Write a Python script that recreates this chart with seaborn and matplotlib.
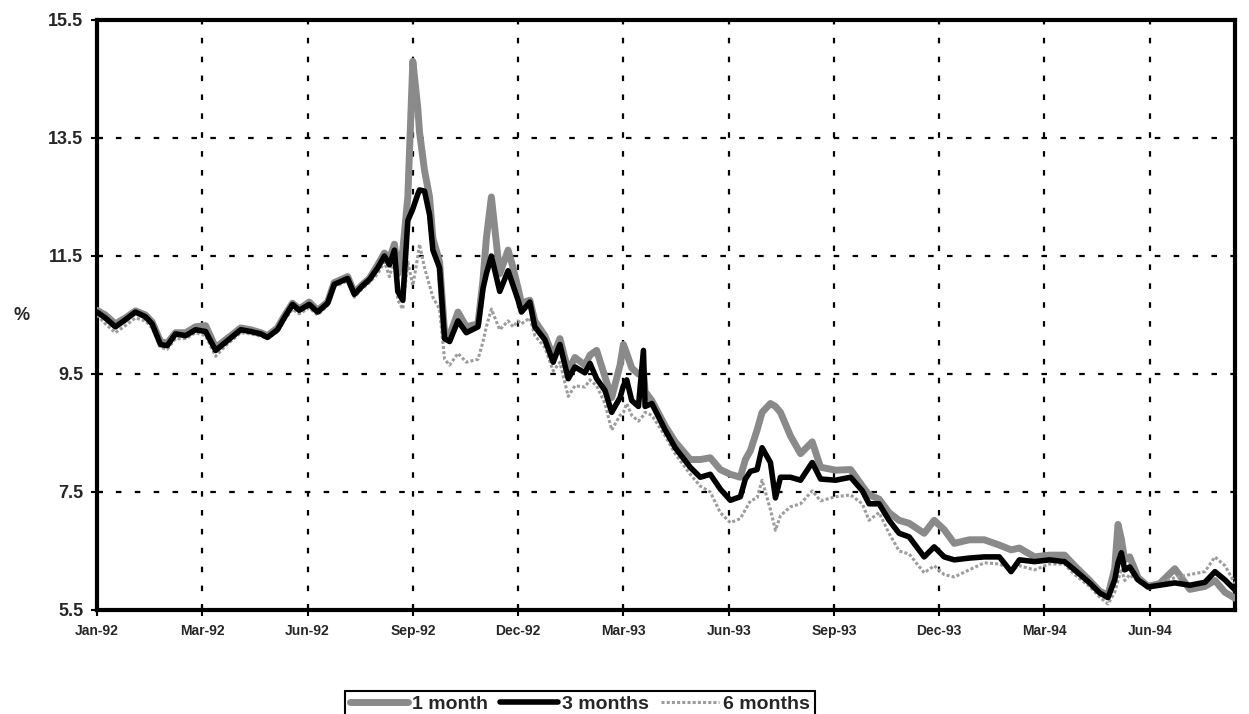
import matplotlib
matplotlib.use("Agg")
import matplotlib.pyplot as plt
import seaborn as sns
import pandas as pd
import numpy as np

# business-day index (63 business days between labelled ticks)
days = [0, 5, 11, 17, 23, 29, 33, 38, 42, 47, 53, 59, 65, 71, 77, 86, 92, 98, 102, 108,
        112, 117, 121, 127, 132, 138, 142, 150, 154, 159, 163, 168, 172, 175, 178, 180, 183,
        186, 189, 192, 193, 196, 199, 201, 205, 208, 211, 216, 221, 228, 231, 233, 236, 241,
        246, 249, 252, 254, 259, 262, 268, 273, 277, 282, 286, 292, 295, 299, 304, 308, 313,
        315, 317, 320, 324, 327, 328, 332, 340, 346, 355, 361, 367, 373, 379, 385, 388, 391,
        395, 398, 403, 406, 409, 415, 421, 428, 433, 442, 451, 458, 462, 468, 474, 480, 486,
        495, 501, 507, 513, 522, 531, 540, 547, 552, 561, 570, 579, 585, 594, 600, 605, 609,
        611, 613, 615, 618, 623, 629, 636, 645, 654, 663, 669, 675, 681]

three_months = [10.55, 10.45, 10.30, 10.42, 10.55, 10.47, 10.35, 10.00, 9.98, 10.18, 10.15, 10.25,
                10.22, 9.90, 10.04, 10.25, 10.22, 10.18, 10.12, 10.25, 10.45, 10.68, 10.58, 10.68,
                10.55, 10.70, 11.02, 11.12, 10.85, 11.00, 11.10, 11.30, 11.50, 11.35, 11.60, 10.90,
                10.75, 12.10, 12.30, 12.55, 12.62, 12.60, 12.20, 11.60, 11.30, 10.10, 10.05, 10.40,
                10.20, 10.30, 10.95, 11.20, 11.50, 10.90, 11.25, 11.00, 10.75, 10.55, 10.72, 10.30,
                10.08, 9.70, 10.00, 9.42, 9.62, 9.52, 9.68, 9.42, 9.22, 8.85, 9.10, 9.30, 9.40,
                9.05, 8.95, 9.90, 8.95, 9.00, 8.55, 8.25, 7.92, 7.75, 7.80, 7.55, 7.36, 7.42, 7.72,
                7.85, 7.88, 8.25, 8.00, 7.40, 7.75, 7.75, 7.70, 8.00, 7.72, 7.70, 7.75, 7.52, 7.30,
                7.30, 7.02, 6.80, 6.74, 6.40, 6.57, 6.40, 6.35, 6.38, 6.40, 6.40, 6.15, 6.35, 6.32,
                6.35, 6.32, 6.18, 5.96, 5.79, 5.71, 6.01, 6.30, 6.47, 6.18, 6.23, 6.01, 5.89, 5.92,
                5.96, 5.92, 5.97, 6.15, 6.01, 5.84]

one_month = [10.58, 10.50, 10.35, 10.45, 10.57, 10.50, 10.38, 10.05, 10.02, 10.20, 10.20, 10.30,
             10.32, 9.95, 10.08, 10.28, 10.25, 10.20, 10.15, 10.28, 10.48, 10.70, 10.60, 10.72,
             10.58, 10.72, 11.05, 11.15, 10.88, 11.02, 11.12, 11.35, 11.55, 11.45, 11.70, 11.20,
             11.60, 12.50, 14.80, 14.00, 13.60, 12.95, 12.50, 11.80, 11.40, 10.20, 10.15, 10.55,
             10.30, 10.35, 11.10, 11.80, 12.50, 11.20, 11.60, 11.30, 10.95, 10.70, 10.75, 10.40,
             10.15, 9.80, 10.10, 9.55, 9.78, 9.65, 9.82, 9.90, 9.45, 9.10, 9.65, 10.00, 9.85,
             9.60, 9.50, 9.55, 9.20, 9.05, 8.62, 8.35, 8.05, 8.05, 8.08, 7.88, 7.80, 7.75, 8.05,
             8.20, 8.55, 8.85, 9.00, 8.95, 8.85, 8.45, 8.15, 8.35, 7.92, 7.87, 7.88, 7.60, 7.45,
             7.38, 7.15, 7.02, 6.97, 6.80, 7.02, 6.86, 6.63, 6.69, 6.69, 6.60, 6.52, 6.55, 6.40,
             6.43, 6.43, 6.25, 6.00, 5.82, 5.75, 6.20, 6.95, 6.70, 6.35, 6.40, 6.05, 5.90, 5.95,
             6.20, 5.85, 5.90, 6.00, 5.80, 5.70]

six_months = [10.50, 10.35, 10.20, 10.32, 10.45, 10.40, 10.28, 9.95, 9.92, 10.10, 10.10, 10.20,
              10.15, 9.80, 9.98, 10.20, 10.18, 10.14, 10.10, 10.22, 10.40, 10.60, 10.52, 10.62,
              10.50, 10.66, 10.98, 11.08, 10.80, 10.95, 11.05, 11.20, 11.40, 11.15, 11.45, 10.75,
              10.60, 11.40, 11.00, 11.50, 11.70, 11.30, 11.00, 10.80, 10.60, 9.75, 9.65, 9.85,
              9.70, 9.75, 10.05, 10.30, 10.60, 10.25, 10.40, 10.30, 10.40, 10.35, 10.45, 10.15,
              9.95, 9.55, 9.70, 9.12, 9.30, 9.28, 9.40, 9.30, 9.00, 8.55, 8.80, 8.85, 9.00,
              8.80, 8.70, 8.80, 8.85, 8.80, 8.45, 8.15, 7.80, 7.60, 7.50, 7.15, 6.98, 7.05, 7.20,
              7.35, 7.40, 7.70, 7.20, 6.85, 7.10, 7.25, 7.30, 7.52, 7.35, 7.42, 7.45, 7.30, 7.02,
              7.15, 6.80, 6.50, 6.45, 6.13, 6.25, 6.10, 6.06, 6.18, 6.30, 6.28, 6.18, 6.25, 6.18,
              6.28, 6.28, 6.10, 5.90, 5.72, 5.60, 5.80, 6.00, 6.20, 6.00, 6.10, 5.98, 5.88, 5.95,
              6.05, 6.10, 6.15, 6.40, 6.25, 5.95]

tick_labels = ["Jan-92", "Mar-92", "Jun-92", "Sep-92", "Dec-92", "Mar-93",
               "Jun-93", "Sep-93", "Dec-93", "Mar-94", "Jun-94"]
y_ticks = [5.5, 7.5, 9.5, 11.5, 13.5, 15.5]
series_names = ["1 month", "3 months", "6 months"]

sns.set_style("white")
plt.rcParams["font.family"] = ["Liberation Sans", "DejaVu Sans"]

fig = plt.figure(figsize=(12.49, 7.14), dpi=100)
ax = fig.add_axes([97 / 1249, 1 - 610 / 714, (1235 - 97) / 1249, (610 - 20) / 714])

df1 = pd.DataFrame({"day": days, "v": one_month})
df3 = pd.DataFrame({"day": days, "v": three_months})
df6 = pd.DataFrame({"day": days, "v": six_months})

sns.lineplot(data=df1, x="day", y="v", ax=ax, color="#8a8a8a", linewidth=5,
             label=series_names[0], zorder=3)
sns.lineplot(data=df6, x="day", y="v", ax=ax, color="#9c9c9c", linewidth=2.2,
             linestyle=(0, (1, 0.7)), label=series_names[2], zorder=4)
sns.lineplot(data=df3, x="day", y="v", ax=ax, color="black", linewidth=4,
             label=series_names[1], zorder=5)

ax.set_xlim(0, days[-1])
ax.set_ylim(5.5, 15.5)
ax.set_xticks([i * 63 for i in range(len(tick_labels))])
ax.set_xticklabels(tick_labels, fontsize=10, fontweight="bold")
ax.set_yticks(y_ticks)
ax.set_yticklabels([f"{t:.1f}" for t in y_ticks], fontsize=13, fontweight="bold")
ax.set_xlabel("")
ax.set_ylabel("%", fontsize=13, fontweight="bold", rotation=0, va="center", ha="center")
ax.yaxis.set_label_coords(-(97 - 22) / 1138, 0.5)

ax.grid(True, color="black", linestyle=(0, (2.5, 6)), linewidth=1.6)
ax.set_axisbelow(True)
for s in ax.spines.values():
    s.set_visible(True)
    s.set_color("black")
    s.set_linewidth(3)
ax.tick_params(axis="both", which="major", direction="inout", length=8, width=1.5,
               color="black", left=True, bottom=True, pad=6)

handles, labels = ax.get_legend_handles_labels()
order = [labels.index(n) for n in series_names]
ax.legend([handles[i] for i in order], [labels[i] for i in order],
          loc="upper center", bbox_to_anchor=(580 / 1249, 1 - 681 / 714),
          bbox_transform=fig.transFigure, ncol=3, frameon=True, fancybox=False,
          edgecolor="black", framealpha=1, handlelength=3.0, handletextpad=0.2,
          columnspacing=0.6, borderpad=0.25,
          prop={"size": 14, "weight": "bold"})
ax.get_legend().get_frame().set_linewidth(1.5)

fig.savefig("out.png", dpi=100)
